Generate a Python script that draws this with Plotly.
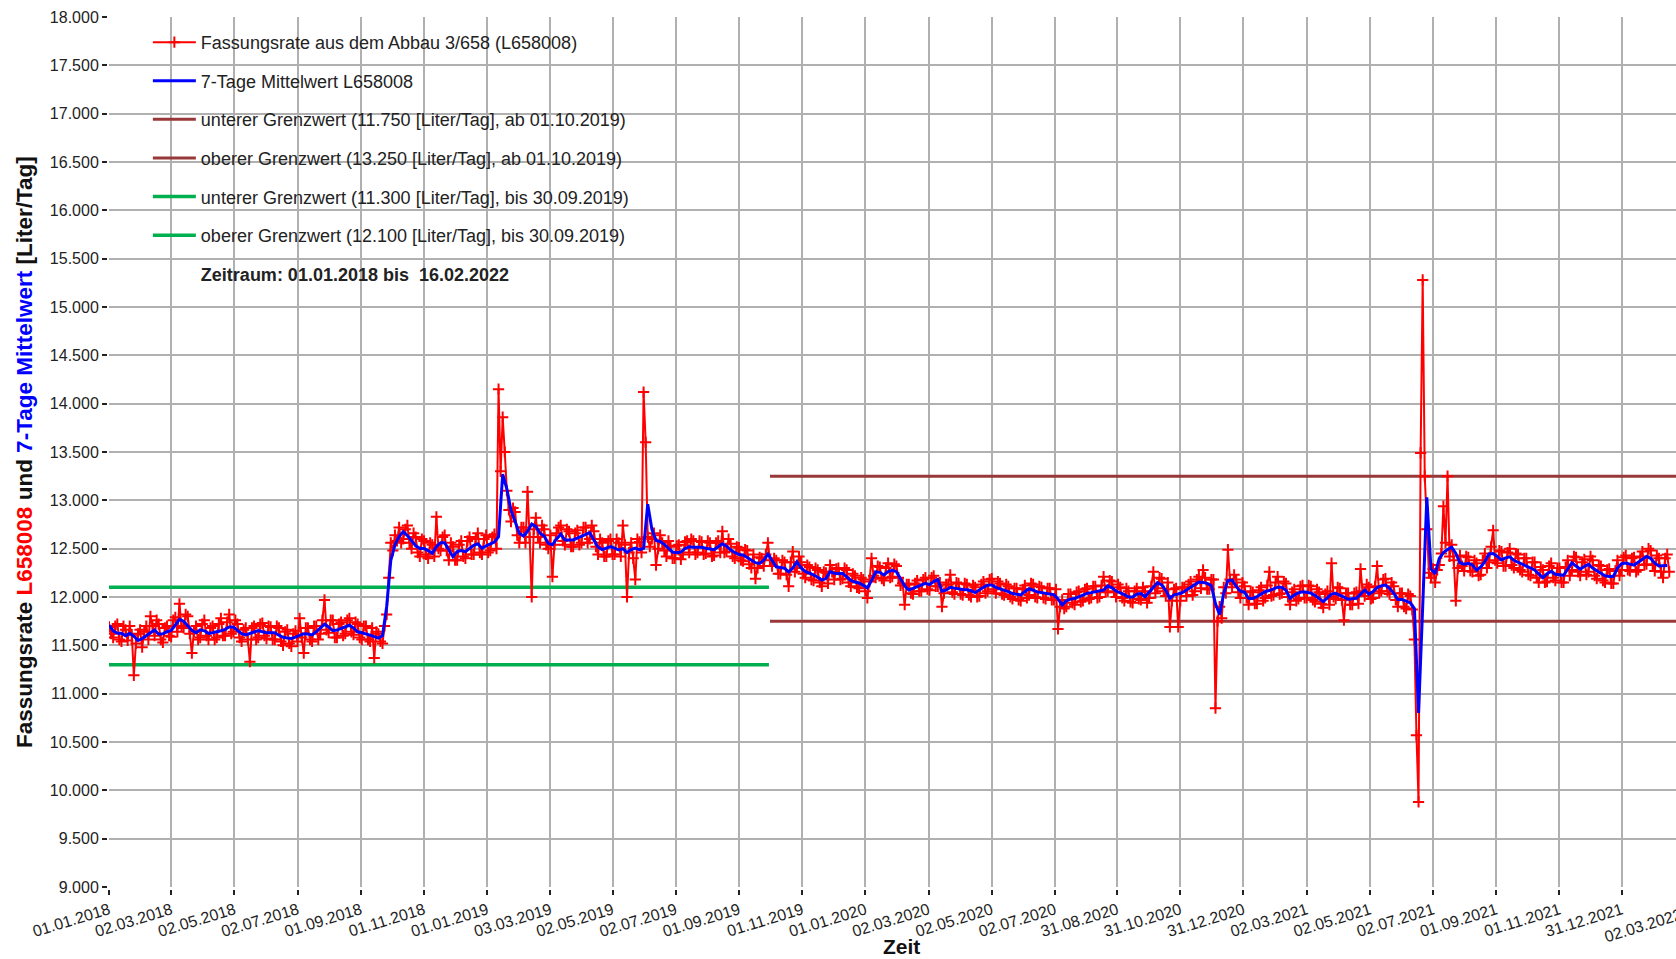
import pandas as pd
import plotly.graph_objects as go

START = "2018-01-01"
STEP = "4D"

# Fassungsrate L658008 [Liter/Tag], readings every 4 days from 01.01.2018
rate_values = [
    11690, 11580, 11720, 11540, 11660, 11700, 11190, 11620, 11480, 11700,
    11800, 11600, 11720, 11530, 11700, 11590, 11790, 11930, 11680, 11800,
    11420, 11700, 11580, 11760, 11560, 11700, 11580, 11780, 11600, 11820,
    11640, 11720, 11540, 11680, 11330, 11700, 11580, 11730, 11570, 11690,
    11560, 11680, 11500, 11660, 11490, 11650, 11780, 11420, 11680, 11540,
    11700, 11620, 11970, 11630, 11760, 11580, 11740, 11620, 11780, 11610,
    11720, 11560, 11700, 11540, 11370, 11620, 11520, 11820, 12560, 12640,
    12720, 12600, 12740, 12500, 12620, 12420, 12580, 12400, 12540, 12830,
    12480, 12640, 12380, 12520, 12380, 12580, 12400, 12620, 12440, 12660,
    12440, 12640, 12480, 12650, 14150, 13860, 13100, 12780, 12880, 12560,
    12720, 13090, 12000, 12820, 12560, 12700, 12500, 12210, 12660, 12740,
    12540, 12680, 12520, 12690, 12560, 12720, 12600, 12680, 12440, 12560,
    12420, 12600, 12440, 12560, 12740, 12000, 12560, 12180, 12570, 14120,
    12620, 12600, 12330, 12640, 12480, 12580, 12400, 12530, 12390, 12570,
    12460, 12580, 12460, 12570, 12450, 12560, 12430, 12580, 12680, 12470,
    12550, 12400, 12510, 12370, 12480, 12300, 12190, 12410, 12320, 12560,
    12320, 12380, 12240, 12360, 12110, 12470, 12300, 12360, 12200, 12310,
    12170, 12280, 12110, 12250, 12330, 12180, 12300, 12190, 12280, 12110,
    12220, 12090, 12180, 11990, 12400, 12200, 12310, 12170, 12350, 12210,
    12320, 12120, 11920, 12130, 12030, 12170, 12060, 12200, 12070, 12220,
    12110, 11900, 12130, 12230, 12030, 12140, 12020, 12130, 12000, 12100,
    12010, 12160, 12060, 12190, 12040, 12140, 12020, 12110, 11980, 12090,
    11960, 12120, 12020, 12130, 11990, 12100, 11980, 12090, 11970, 11670,
    11970, 11900, 12030, 11920, 12060, 11960, 12090, 11990, 12110, 12000,
    12210, 12060, 12160, 12000, 12100, 11960, 12060, 11940, 12090, 11970,
    12060, 11990, 12260, 12090, 12190, 12010, 11690, 12080, 11690, 12100,
    12010, 12160, 12060, 12210, 12280, 12080, 12180, 10850, 11900, 12100,
    12490, 12100, 12180, 11990, 12110, 11920, 12050, 11930, 12100, 11990,
    12260, 12020, 12210, 12040, 12140, 11920, 12080, 11980, 12120, 11990,
    12110, 11950, 12050, 11890, 12060, 12350, 11980, 12090, 11760, 12040,
    11920, 12050, 12290, 12010, 12100, 11990, 12320, 12060, 12190, 12030,
    12110, 11900, 12040, 11880, 12010, 11560, 9880, 15280, 12700, 12200,
    12150, 12330, 12940, 13250, 12540, 11960, 12430, 12270, 12410, 12260,
    12350, 12230, 12450, 12360, 12690, 12350, 12470, 12320, 12500, 12300,
    12440, 12260, 12400, 12220, 12360, 12150, 12280, 12160, 12350, 12170,
    12300, 12150, 12380, 12280, 12410, 12220, 12390, 12260, 12380, 12190,
    12320, 12150, 12290, 12140, 12380, 12280, 12430, 12270, 12410, 12280,
    12470, 12340, 12480, 12270, 12400, 12200, 12440,
]

# Fassungsrate L658008 [Liter/Tag], the readings 2 days after each of the above
rate_values_mid = [
    11620, 11700, 11560, 11700, 11550, 11610, 11520, 11660, 11640, 11560,
    11700, 11760, 11560, 11680, 11600, 11760, 11640, 11700, 11820, 11620,
    11640, 11560, 11720, 11600, 11680, 11560, 11720, 11600, 11740, 11620,
    11760, 11580, 11660, 11560, 11680, 11560, 11720, 11600, 11700, 11560,
    11700, 11540, 11640, 11520, 11620, 11540, 11580, 11680, 11560, 11700,
    11560, 11760, 11660, 11760, 11580, 11720, 11600, 11760, 11640, 11740,
    11580, 11700, 11560, 11680, 11640, 11540, 11700, 12200, 12480, 12580,
    12560, 12700, 12560, 12660, 12460, 12600, 12440, 12560, 12420, 12500,
    12620, 12480, 12560, 12380, 12540, 12420, 12580, 12440, 12600, 12460,
    12600, 12460, 12620, 12500, 13300, 13500, 12900, 12920, 12640, 12720,
    12560, 12620, 12700, 12620, 12740, 12540, 12640, 12540, 12720, 12580,
    12700, 12520, 12660, 12540, 12720, 12560, 12740, 12520, 12600, 12420,
    12580, 12440, 12600, 12420, 12540, 12460, 12400, 12600, 12460, 13600,
    12520, 12660, 12500, 12560, 12420, 12520, 12400, 12540, 12440, 12580,
    12600, 12440, 12580, 12440, 12580, 12420, 12560, 12460, 12460, 12600,
    12420, 12520, 12380, 12490, 12340, 12440, 12300, 12400, 12440, 12380,
    12400, 12240, 12380, 12230, 12360, 12260, 12420, 12240, 12330, 12180,
    12300, 12150, 12260, 12140, 12260, 12290, 12180, 12300, 12150, 12240,
    12100, 12200, 12060, 12160, 12220, 12320, 12190, 12300, 12200, 12340,
    12200, 12140, 12130, 12040, 12140, 12060, 12180, 12080, 12200, 12110,
    12150, 12040, 12130, 12050, 12150, 12030, 12140, 12020, 12120, 12000,
    12130, 12040, 12180, 12080, 12160, 12030, 12130, 12000, 12090, 11970,
    12080, 11990, 12140, 12000, 12110, 11990, 12090, 11970, 12080, 11900,
    11880, 12030, 11940, 12050, 11950, 12080, 11980, 12110, 11990, 12120,
    12050, 12170, 12050, 12130, 11990, 12090, 11950, 12060, 11980, 12100,
    11940, 12110, 12040, 12200, 12060, 12150, 11960, 12090, 11960, 12100,
    12130, 12020, 12180, 12090, 12200, 12080, 12180, 11750, 11780, 12040,
    12180, 12230, 12050, 12150, 11990, 12060, 11930, 12070, 11960, 12120,
    12010, 12150, 12030, 12160, 12000, 12050, 11960, 12110, 11990, 12120,
    11970, 12080, 11930, 12030, 11920, 12000, 12100, 11970, 12040, 11920,
    12040, 11930, 12060, 12130, 11980, 12110, 12040, 12180, 12060, 12150,
    11970, 12040, 11900, 12030, 11870, 10570, 13490, 13250, 12250, 12290,
    12280, 12450, 12560, 12420, 12380, 12300, 12320, 12420, 12270, 12380,
    12220, 12380, 12300, 12520, 12380, 12480, 12320, 12460, 12330, 12450,
    12280, 12400, 12230, 12360, 12200, 12310, 12150, 12320, 12200, 12300,
    12150, 12310, 12220, 12420, 12260, 12360, 12230, 12420, 12220, 12330,
    12170, 12280, 12140, 12270, 12220, 12410, 12280, 12400, 12260, 12420,
    12330, 12500, 12330, 12430, 12260, 12400, 12260,
]

# 7-Tage Mittelwert L658008 [Liter/Tag], every 4 days from 01.01.2018
mean_values = [
    11710, 11650, 11624, 11624, 11600, 11624, 11595, 11550, 11570, 11600,
    11625, 11659, 11615, 11620, 11641, 11655, 11710, 11769, 11750, 11700,
    11655, 11630, 11660, 11650, 11624, 11630, 11638, 11650, 11666, 11690,
    11690, 11650, 11620, 11607, 11620, 11635, 11652, 11640, 11631, 11631,
    11631, 11605, 11583, 11577, 11572, 11585, 11600, 11620, 11618, 11607,
    11640, 11680, 11720, 11690, 11652, 11658, 11675, 11693, 11708, 11680,
    11640, 11630, 11620, 11605, 11590, 11575, 11600, 11900, 12380, 12540,
    12625, 12676, 12635, 12585, 12530, 12503, 12503, 12480, 12452, 12520,
    12560, 12560, 12486, 12417, 12470, 12480, 12469, 12505, 12535, 12550,
    12503, 12530, 12550, 12568, 12624, 13270, 13120, 12900, 12780, 12660,
    12630, 12680, 12755, 12730, 12659, 12630, 12555, 12540, 12600, 12650,
    12590, 12590, 12590, 12610, 12630, 12650, 12666, 12590, 12515, 12490,
    12505, 12521, 12505, 12486, 12500, 12460, 12490, 12505, 12490, 12503,
    12960, 12700, 12585, 12575, 12545, 12500, 12465, 12459, 12465, 12500,
    12520, 12514, 12514, 12514, 12505, 12495, 12490, 12520, 12550, 12525,
    12486, 12460, 12440, 12434, 12410, 12378, 12355, 12348, 12380, 12445,
    12380, 12312, 12305, 12298, 12260, 12300, 12365, 12300, 12265, 12248,
    12230, 12205, 12175, 12190, 12262, 12245, 12240, 12245, 12210, 12172,
    12155, 12145, 12120, 12095, 12170, 12260, 12255, 12228, 12262, 12275,
    12262, 12185, 12115, 12072, 12090, 12107, 12125, 12141, 12128, 12160,
    12180, 12060, 12070, 12100, 12092, 12083, 12078, 12074, 12065, 12045,
    12075, 12100, 12123, 12125, 12100, 12085, 12075, 12055, 12036, 12030,
    12022, 12055, 12085, 12070, 12053, 12045, 12040, 12032, 12024, 11980,
    11917, 11960, 11978, 11984, 12000, 12018, 12038, 12045, 12053, 12060,
    12072, 12115, 12095, 12062, 12046, 12025, 12000, 12000, 12030, 12035,
    12003, 12055, 12100, 12148, 12125, 12070, 11986, 12022, 12031, 12045,
    12072, 12098, 12124, 12155, 12150, 12141, 12118, 11930, 11818, 12040,
    12170, 12175, 12110, 12060, 12050, 11985, 11985, 12003, 12030, 12055,
    12067, 12082, 12102, 12100, 12070, 11986, 12020, 12043, 12053, 12050,
    12040, 12017, 11985, 11952, 11990, 12030, 12038, 12021, 11998, 11976,
    11980, 11986, 12030, 12072, 12030, 12055, 12097, 12115, 12124, 12090,
    12040, 11975, 11975, 11960, 11940, 11880, 10800, 11900, 13030, 12290,
    12239, 12400, 12460, 12490, 12515, 12450, 12352, 12340, 12348, 12330,
    12277, 12310, 12365, 12445, 12450, 12420, 12384, 12405, 12415, 12380,
    12360, 12335, 12315, 12300, 12280, 12240, 12200, 12240, 12265, 12235,
    12228, 12224, 12290, 12355, 12320, 12288, 12315, 12338, 12300, 12269,
    12245, 12220, 12212, 12212, 12300, 12345, 12352, 12340, 12330, 12360,
    12395, 12420, 12400, 12350, 12320, 12320, 12327,
]

# limit values
old_limit_dates = ["2018-01-01", "2019-09-30"]
old_lower = [11300, 11300]
old_upper = [12100, 12100]
new_limit_dates = ["2019-10-01", "2022-12-31"]
new_lower = [11750, 11750]
new_upper = [13250, 13250]

tick_labels = ["01.01.2018", "02.03.2018", "02.05.2018", "02.07.2018", "01.09.2018",
               "01.11.2018", "01.01.2019", "03.03.2019", "02.05.2019", "02.07.2019",
               "01.09.2019", "01.11.2019", "01.01.2020", "02.03.2020", "02.05.2020",
               "02.07.2020", "31.08.2020", "31.10.2020", "31.12.2020", "02.03.2021",
               "02.05.2021", "02.07.2021", "01.09.2021", "01.11.2021", "31.12.2021",
               "02.03.2022"]

y_ticks = list(range(9000, 18001, 500))

rate_df = pd.concat([
    pd.DataFrame({"date": pd.date_range(START, periods=len(rate_values), freq=STEP),
                  "value": rate_values}),
    pd.DataFrame({"date": pd.date_range(pd.Timestamp(START) + pd.Timedelta(days=2),
                                        periods=len(rate_values_mid), freq=STEP),
                  "value": rate_values_mid}),
]).sort_values("date")
mean_dates = pd.date_range(START, periods=len(mean_values), freq=STEP)
tick_dates = pd.to_datetime(tick_labels, format="%d.%m.%Y")

FONT = "Liberation Sans, Arial, sans-serif"
RED = "#FF0000"
BLUE = "#0000FF"
BROWN = "#983838"
GREEN = "#00B050"

fig = go.Figure()
fig.add_trace(go.Scatter(
    x=rate_df["date"], y=rate_df["value"], mode="lines+markers",
    name="Fassungsrate aus dem Abbau 3/658 (L658008)",
    line=dict(color=RED, width=2),
    marker=dict(symbol="cross-thin", size=8, color=RED, line=dict(color=RED, width=2)),
    legendgroup="a", zorder=2))
fig.add_trace(go.Scatter(
    x=mean_dates, y=mean_values, mode="lines", name="7-Tage Mittelwert L658008",
    line=dict(color=BLUE, width=3), legendgroup="b", zorder=3))
fig.add_trace(go.Scatter(
    x=new_limit_dates, y=new_lower, mode="lines",
    name="unterer Grenzwert (11.750 [Liter/Tag], ab 01.10.2019)",
    line=dict(color=BROWN, width=3), legendgroup="c", zorder=1))
fig.add_trace(go.Scatter(
    x=new_limit_dates, y=new_upper, mode="lines",
    name="oberer Grenzwert (13.250 [Liter/Tag], ab 01.10.2019)",
    line=dict(color=BROWN, width=3), legendgroup="d", zorder=1))
fig.add_trace(go.Scatter(
    x=old_limit_dates, y=old_lower, mode="lines",
    name="unterer Grenzwert (11.300 [Liter/Tag], bis 30.09.2019)",
    line=dict(color=GREEN, width=3.5), legendgroup="e", zorder=1))
fig.add_trace(go.Scatter(
    x=old_limit_dates, y=old_upper, mode="lines",
    name="oberer Grenzwert (12.100 [Liter/Tag], bis 30.09.2019)",
    line=dict(color=GREEN, width=3.5), legendgroup="f", zorder=1))
fig.add_trace(go.Scatter(
    x=[None], y=[None], mode="lines",
    name="<b>Zeitraum: 01.01.2018 bis&nbsp; 16.02.2022</b>",
    line=dict(color="rgba(0,0,0,0)", width=0), legendgroup="g"))

x_end = pd.Timestamp(START) + pd.Timedelta(days=1512.5)

fig.update_layout(
    width=1676, height=959,
    margin=dict(l=109, r=0, t=17, b=72),
    paper_bgcolor="white", plot_bgcolor="white",
    separators=",.",
    font=dict(family=FONT, size=16, color="#222222"),
    showlegend=True,
    legend=dict(x=0.0248, y=0.992, xanchor="left", yanchor="top",
                bgcolor="rgba(0,0,0,0)", borderwidth=0,
                font=dict(family=FONT, size=18, color="#222222"),
                itemwidth=43, tracegroupgap=12.2, traceorder="grouped"),
    xaxis=dict(range=[pd.Timestamp(START), x_end], tickmode="array",
               tickvals=tick_dates, ticktext=tick_labels, tickangle=-17,
               showgrid=True, gridcolor="#b0b0b0", gridwidth=1.5,
               showline=True, linecolor="#222222", linewidth=2.5, mirror=True,
               ticks="outside", ticklen=5, tickcolor="#222222", tickwidth=1.5,
               tickfont=dict(size=16, color="#222222"), zeroline=False),
    yaxis=dict(range=[9000, 18000], tickmode="array", tickvals=y_ticks,
               tickformat=",d", showgrid=True, gridcolor="#b0b0b0", gridwidth=1.5,
               showline=True, linecolor="#222222", linewidth=2, mirror=False,
               ticks="outside", ticklen=5, tickcolor="#222222", tickwidth=1.5,
               tickfont=dict(size=16, color="#222222"), zeroline=False),
    shapes=[dict(type="rect", xref="paper", yref="paper",
                 x0=(122 - 109) / 1567, x1=(660 - 109) / 1567,
                 y0=(887 - 294) / 870, y1=0.997,
                 fillcolor="white", line=dict(width=0), layer="between")],
    annotations=[
        dict(text="<b>Fassungsrate <span style='color:#FF0000'>L658008</span> und "
                  "<span style='color:#0000FF'>7-Tage Mittelwert</span> [Liter/Tag]</b>",
             xref="paper", yref="paper", x=(24 - 109) / 1567, y=0.5,
             xanchor="center", yanchor="middle", textangle=-90, showarrow=False,
             font=dict(family=FONT, size=22.5, color="#111111")),
        dict(text="<b>Zeit</b>", xref="paper", yref="paper",
             x=(901 - 109) / 1567, y=(887 - 946) / 870,
             xanchor="center", yanchor="middle", showarrow=False,
             font=dict(family=FONT, size=21, color="#111111")),
        dict(text=tick_labels[-1], xref="paper", yref="paper",
             x=(1643 - 109) / 1567, y=(887 - 925) / 870,
             xanchor="center", yanchor="middle", textangle=-17, showarrow=False,
             font=dict(family=FONT, size=16, color="#222222")),
    ],
)

fig.write_html("out.html")
